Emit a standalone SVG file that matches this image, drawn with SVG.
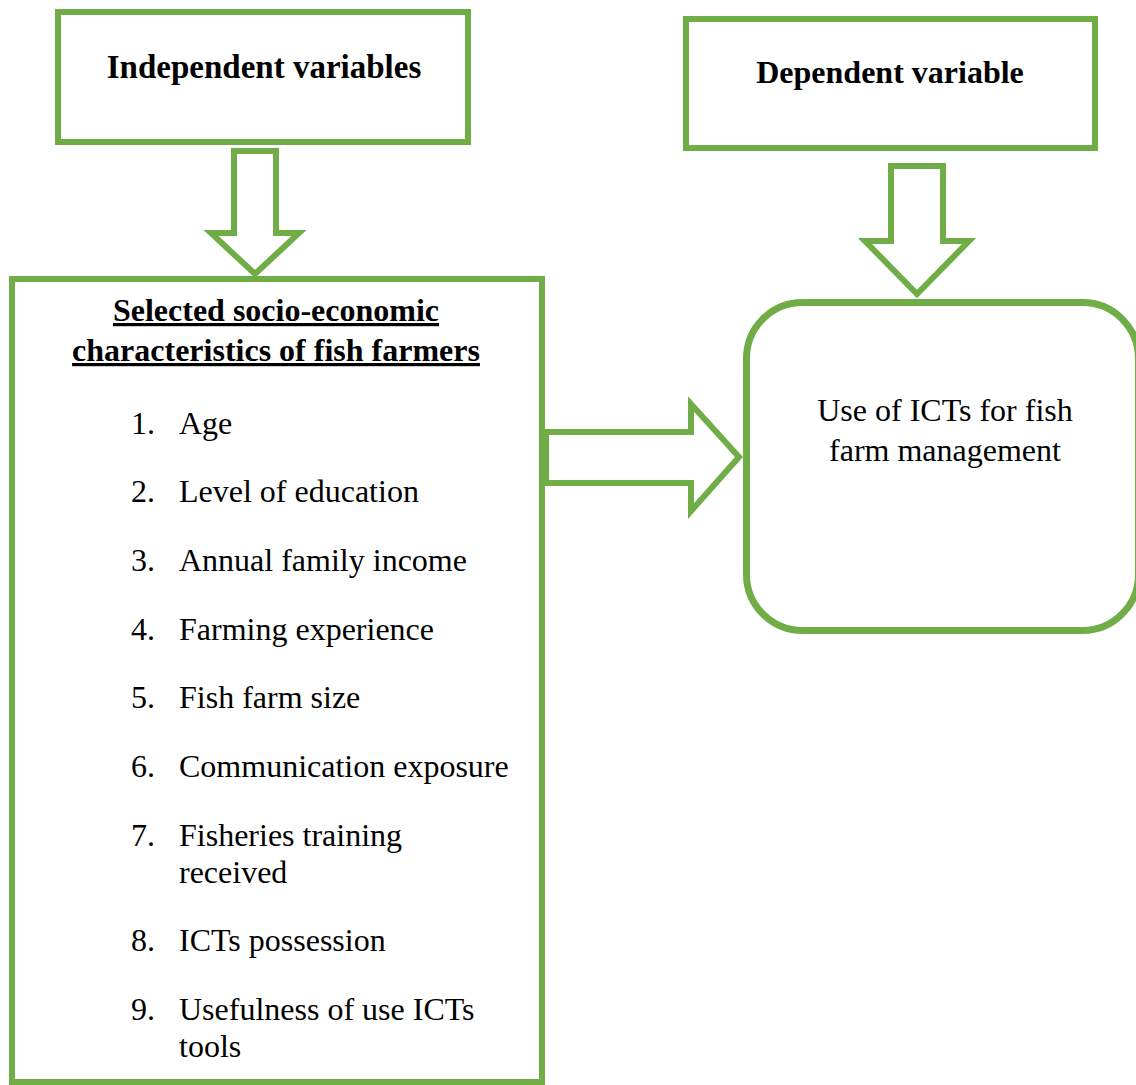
<svg xmlns="http://www.w3.org/2000/svg" width="1136" height="1085" viewBox="0 0 1136 1085">
<style>
.box{fill:#fff;stroke:#70AD47;stroke-width:6;}
.arr{fill:#fff;stroke:#70AD47;stroke-width:6;stroke-linejoin:miter;stroke-miterlimit:10;}
.t{font-family:"Liberation Serif","Times New Roman",serif;font-size:32px;fill:#000;}
.b{font-weight:bold;}
.c{text-anchor:middle;}
</style>
<rect width="1136" height="1085" fill="#fff"/>
<g id="independent">
<rect class="box" x="58" y="12" width="410" height="130"/>
<text class="t b c" x="264" y="78" style="font-size:33px">Independent variables</text>
</g>
<g id="dependent">
<rect class="box" x="686" y="19" width="409" height="129"/>
<text class="t b c" x="890" y="83">Dependent variable</text>
</g>
<g id="characteristics">
<rect class="box" x="12" y="279" width="530" height="803"/>
<text class="t b c" x="276" y="321" text-decoration="underline">Selected socio-economic</text>
<text class="t b c" x="276" y="361" text-decoration="underline">characteristics of fish farmers</text>
<g class="t">
<text x="131" y="434">1.</text><text x="179" y="434">Age</text>
<text x="131" y="502">2.</text><text x="179" y="502">Level of education</text>
<text x="131" y="571">3.</text><text x="179" y="571">Annual family income</text>
<text x="131" y="640">4.</text><text x="179" y="640">Farming experience</text>
<text x="131" y="708">5.</text><text x="179" y="708">Fish farm size</text>
<text x="131" y="777">6.</text><text x="179" y="777">Communication exposure</text>
<text x="131" y="846">7.</text><text x="179" y="846">Fisheries training</text>
<text x="179" y="883">received</text>
<text x="131" y="951">8.</text><text x="179" y="951">ICTs possession</text>
<text x="131" y="1020">9.</text><text x="179" y="1020">Usefulness of use ICTs</text>
<text x="179" y="1057">tools</text>
</g>
</g>
<g id="use-icts">
<rect x="746.5" y="302.5" width="392" height="328" rx="56" ry="56" fill="#fff" stroke="#70AD47" stroke-width="7"/>
<text class="t c" x="945" y="421">Use of ICTs for fish</text>
<text class="t c" x="945" y="461">farm management</text>
</g>
<g id="connectors">
<polygon class="arr" points="234,151 276,151 276,233 299,233 255,274 211,233 234,233"/>
<polygon class="arr" points="891,166 943,166 943,241 969,241 917,294 865,241 891,241"/>
<polygon class="arr" points="546,432 691,432 691,404 739,457 691,511 691,483 546,483"/>
</g>
</svg>
